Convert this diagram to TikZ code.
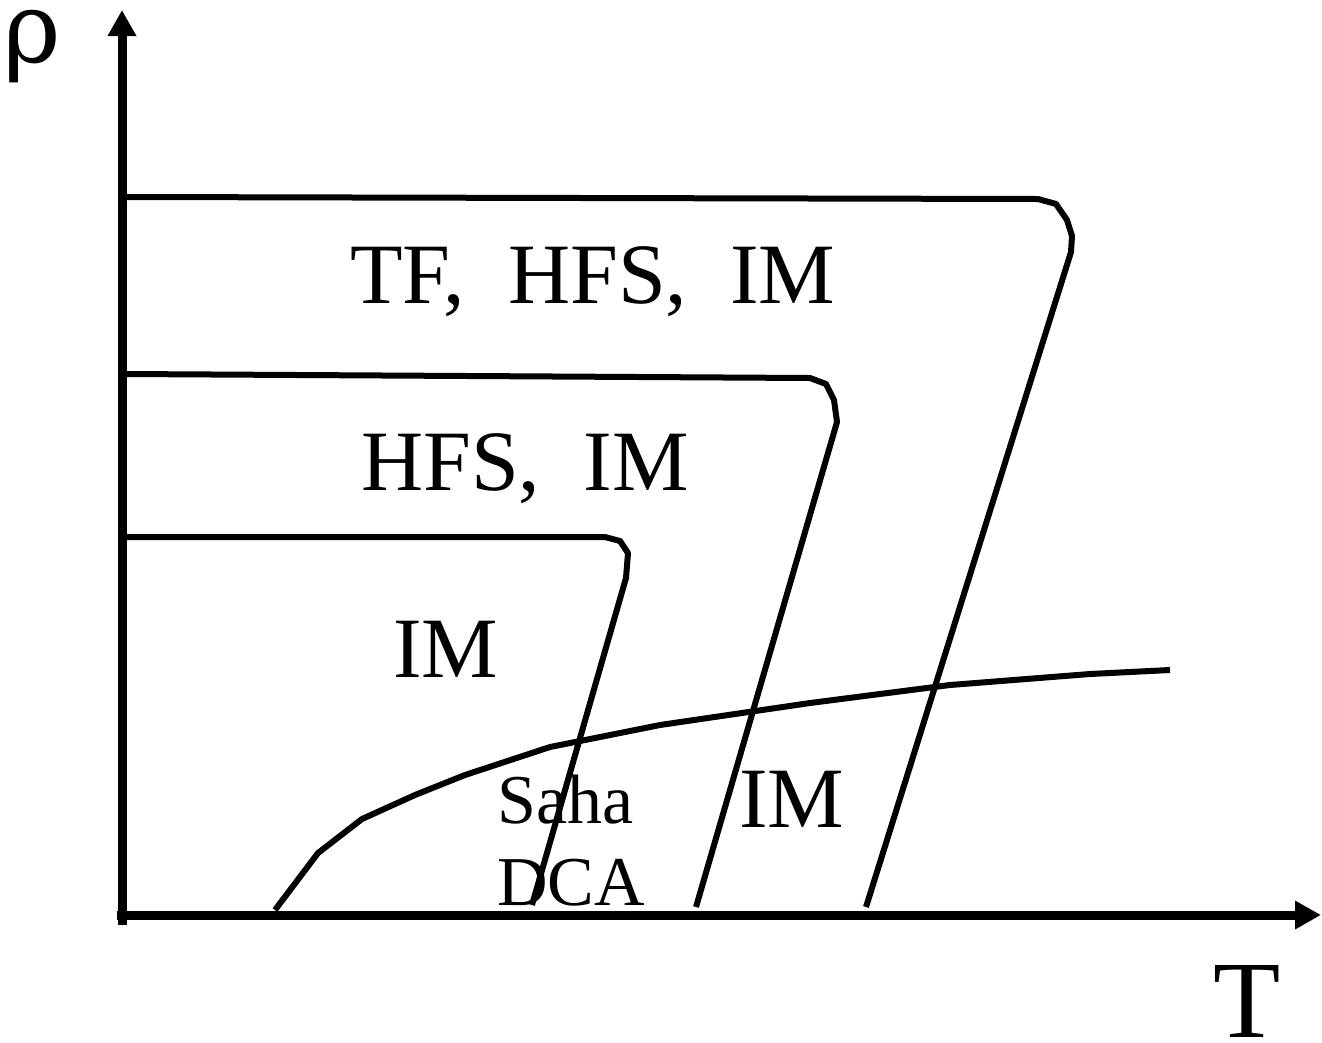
\documentclass[tikz,border=0pt]{standalone}
\usepackage{fontspec}
\setmainfont{Liberation Serif}
\newfontfamily\rhofont{DejaVu Serif}
\usetikzlibrary{arrows.meta}
\begin{document}
\begin{tikzpicture}[x=1pt,y=-1pt,
  axisline/.style={line width=9pt,-{Triangle[length=26pt,width=27pt]}},
  curveline/.style={line width=6pt,line join=round},
  bigtxt/.style={anchor=base west,inner sep=0pt,font=\fontsize{86}{86}\selectfont},
  midtxt/.style={anchor=base west,inner sep=0pt,font=\fontsize{70}{70}\selectfont}]
\useasboundingbox (0,0) rectangle (1322,1042);
% axes
\coordinate (yo) at (122,925);
\coordinate (ytip) at (122,10);
\coordinate (xo) at (117,915);
\coordinate (xtip) at (1321,915);
\draw[axisline] (yo) -- (ytip);
\draw[axisline] (xo) -- (xtip);
\node[anchor=base,inner sep=0pt,text height=0.52em,text depth=0.2em,font=\rhofont\fontsize{98}{98}\selectfont] (rho) at (32,62) {ρ};
\node[anchor=base,inner sep=0pt,text height=0.66em,text depth=0pt,font=\fontsize{110}{110}\selectfont] (T) at (1247,1037) {T};
% boundary curves
\draw[curveline] (127,197) -- (1038,199) -- (1056,204) -- (1067,220) -- (1072,236) -- (1071,252) -- (866,907);
\draw[curveline] (127,374) -- (810,378) -- (826,384) -- (834,400) -- (837,422) -- (696,907);
\draw[curveline] (127,537) -- (605,537) -- (620,541) -- (628,553) -- (626,578) -- (532,905);
\draw[curveline] (275,910) -- (318,853) -- (362,819) -- (415,795) -- (465,775) -- (550,747) -- (660,725) -- (810,703) -- (950,685) -- (1090,674) -- (1170,670);
% labels
\node[bigtxt] (l1) at (350,303) {TF,\ \ HFS,\ \ IM};
\node[bigtxt] (l2) at (361,490) {HFS,\ \ IM};
\node[bigtxt] (l3) at (393,677) {IM};
\node[midtxt] (l4) at (497,823) {Saha};
\node[midtxt] (l5) at (497,905) {DCA};
\node[bigtxt] (l6) at (739,827) {IM};
\end{tikzpicture}
\end{document}
